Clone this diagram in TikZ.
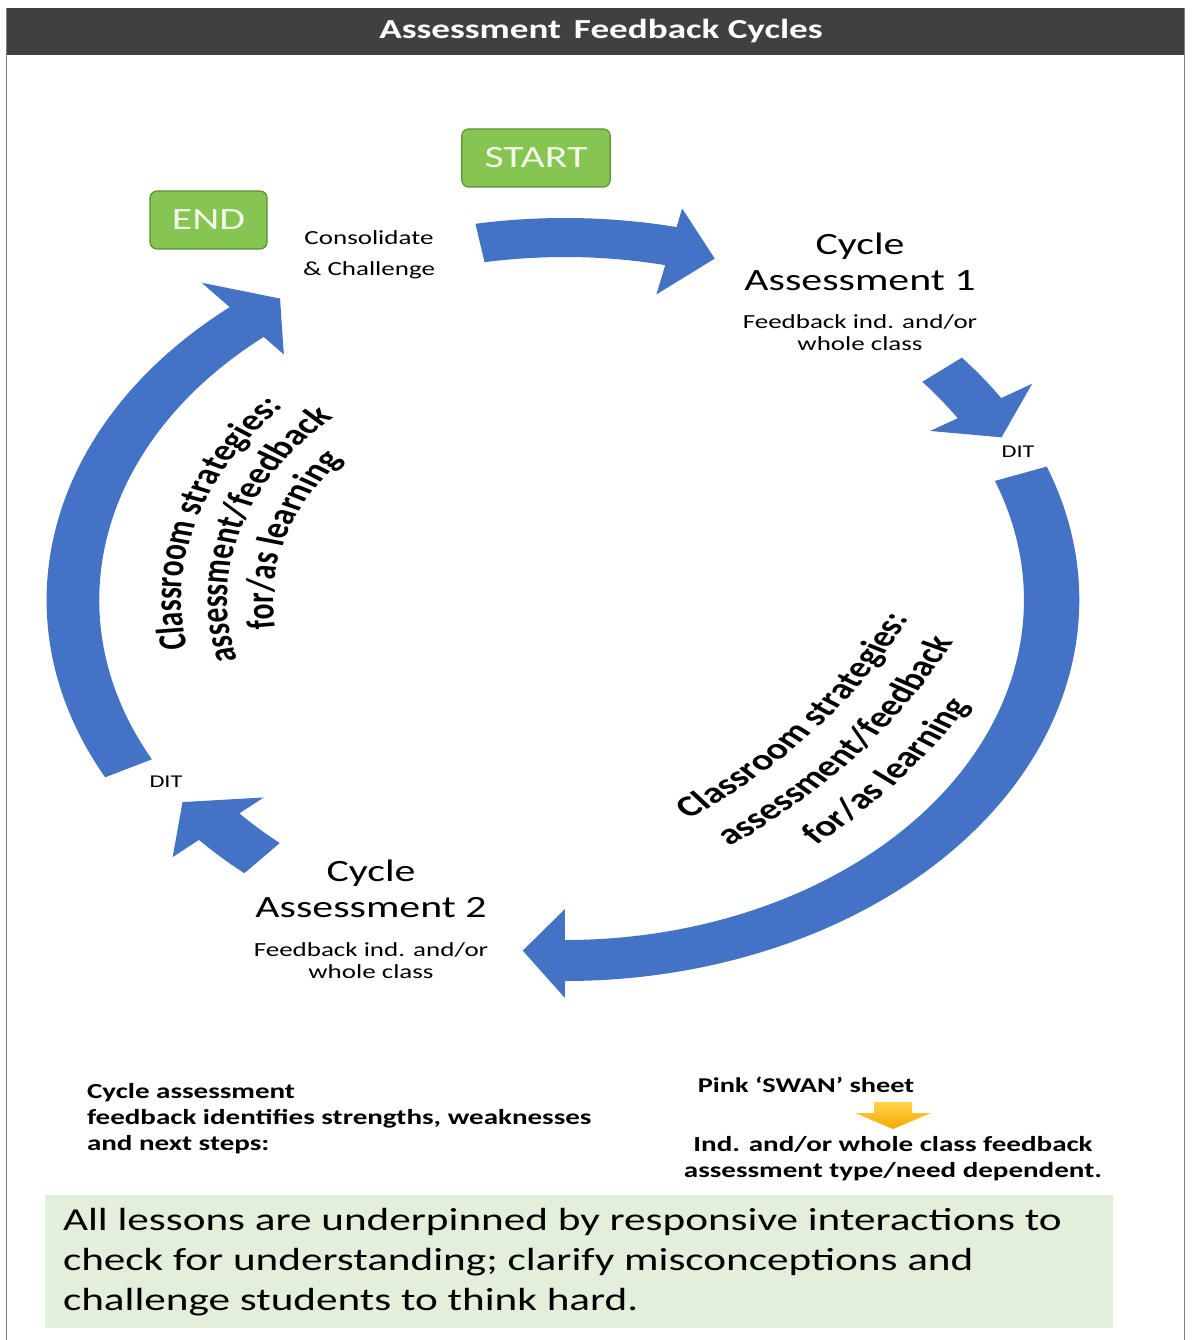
\documentclass[tikz,border=0pt]{standalone}
\usepackage{fontspec}
\setmainfont{Carlito}
\usetikzlibrary{decorations.text}
\definecolor{ringblue}{HTML}{4472C4}
\definecolor{titlegray}{HTML}{404040}
\definecolor{framegray}{HTML}{7F7F7F}
\definecolor{boxgreen}{HTML}{86C552}
\definecolor{boxedge}{HTML}{5C8F33}
\definecolor{boxtext}{HTML}{F3F9E9}
\definecolor{notegreen}{HTML}{E2EFDA}
\definecolor{swantop}{HTML}{FFD54A}
\definecolor{swanbottom}{HTML}{F5A800}
\newcommand{\setfs}[2]{\fontsize{#1}{#2}\selectfont}
\newcommand{\curvefont}{\bfseries\fontsize{29.5}{34}\selectfont}
% ring arrow: tail angle, head base angle, tip angle, body inner r, body outer r, head inner r, head outer r, tip r
\newcommand{\ringarrow}[8]{%
  \fill[ringblue] (#1:#5) arc[start angle=#1, end angle=#2, radius=#5]
    -- (#2:#7) -- (#3:#8) -- (#2:#6) -- (#2:#4)
    arc[start angle=#2, end angle=#1, radius=#4] -- cycle;}
\begin{document}
\begin{tikzpicture}[x=1pt,y=-1pt,
  txt/.style={xscale=1.35, inner sep=0pt, outer sep=0pt, align=center},
  greenbox/.style={xscale=1.35, draw=boxedge, line width=1.2pt, fill=boxgreen,
    rounded corners=7pt, text=boxtext, font=\setfs{31}{31}, minimum height=58pt, inner sep=0pt}]
\useasboundingbox (0,0) rectangle (1192,1340);
\fill[white] (0,0) rectangle (1192,1340);

% frame and title bar
\fill[titlegray] (6,8) rectangle (1184,55);
\draw[framegray, line width=1pt] (6,8) -- (6,1340) (1184,8) -- (1184,1340);
\node[txt, text=white, font=\bfseries\setfs{27.5}{27.5}] (title) at (601,31) {Assessment\hspace{0.35em}Feedback Cycles};

% ring of arrows
\begin{scope}[x=1.35pt, shift={(418.5,600)}]
  \ringarrow{260}{282.5}{288}{343}{382}{313}{401}{359}
  \ringarrow{320.5}{328}{333.3}{343}{381}{319}{408}{362}
  \ringarrow{339.5}{450}{455.1}{340}{381}{309}{398}{352}
  \ringarrow{491}{498.5}{504.5}{322}{362}{298}{388}{348}
  \ringarrow{512.5}{589.7}{595}{345}{384}{322}{416}{368}
\end{scope}

% start / end boxes
\node[greenbox, minimum width=110pt] (start) at (536,158) {START};
\node[greenbox, minimum width=86.7pt] (end) at (208.5,220) {END};

% labels
\node[txt, font=\setfs{20}{31}] (consol) at (369,255) {Consolidate\\\& Challenge};
\node[txt, font=\setfs{31}{36}] (ca1) at (860,262) {Cycle\\Assessment 1};
\node[txt, font=\setfs{20}{22}] (fb1) at (860,333) {Feedback ind. and/or\\whole class};
\node[txt, font=\setfs{18}{18}] (dit1) at (1018,452) {DIT};
\node[txt, font=\setfs{31}{36}] (ca2) at (371,889) {Cycle\\Assessment 2};
\node[txt, font=\setfs{20}{22}] (fb2) at (371,961) {Feedback ind. and/or\\whole class};
\node[txt, font=\setfs{18}{18}] (dit2) at (166,782) {DIT};

% curved texts
\begin{scope}[transform canvas={xscale=1.35}]
  \path[decorate, decoration={text along path, text align=center,
      text={|\curvefont|Classroom strategies:}}]
    (418.5,600) ++(146.5:284) arc[start angle=146.5, end angle=246.5, radius=284];
  \path[decorate, decoration={text along path, text align=center,
      text={|\curvefont|assessment/feedback}}]
    (418.5,600) ++(146.5:250) arc[start angle=146.5, end angle=246.5, radius=250];
  \path[decorate, decoration={text along path, text align=center,
      text={|\curvefont|for/as learning}}]
    (418.5,600) ++(146.5:216) arc[start angle=146.5, end angle=246.5, radius=216];
  \path[decorate, decoration={text along path, text align=center,
      text={|\curvefont|Classroom strategies:}}]
    (210.6,410.5) ++(74:507) arc[start angle=74, end angle=4, radius=507];
  \path[decorate, decoration={text along path, text align=center,
      text={|\curvefont|assessment/feedback}}]
    (210.6,410.5) ++(74:547) arc[start angle=74, end angle=4, radius=547];
  \path[decorate, decoration={text along path, text align=center,
      text={|\curvefont|for/as learning}}]
    (210.6,410.5) ++(74:587) arc[start angle=74, end angle=4, radius=587];
\end{scope}

% bottom notes
\node[txt, align=left, anchor=west, font=\bfseries\setfs{21.5}{26}] (note1) at (87,1119)
  {Cycle assessment\\feedback identifies strengths, weaknesses\\and next steps:};
\node[txt, font=\bfseries\setfs{21}{21}] (swan) at (806,1085) {Pink ‘SWAN’ sheet};
\shade[top color=swantop, bottom color=swanbottom]
  (874,1102) -- (912,1102) -- (912,1113) -- (931,1113) -- (893,1129) -- (855,1113) -- (874,1113) -- cycle;
\node[txt, font=\bfseries\setfs{21.5}{26}] (ind) at (893,1159)
  {Ind. and/or whole class feedback\\assessment type/need dependent.};

% green note box
\node[fill=notegreen, minimum width=1068pt, minimum height=133pt, anchor=north west, inner sep=0pt] (notebox) at (45,1195) {};
\node[txt, align=left, anchor=west, font=\setfs{32}{40}] (note2) at (63,1262)
  {All lessons are underpinned by responsive interactions to\\check for understanding; clarify misconceptions and\\challenge students to think hard.};
\end{tikzpicture}
\end{document}
